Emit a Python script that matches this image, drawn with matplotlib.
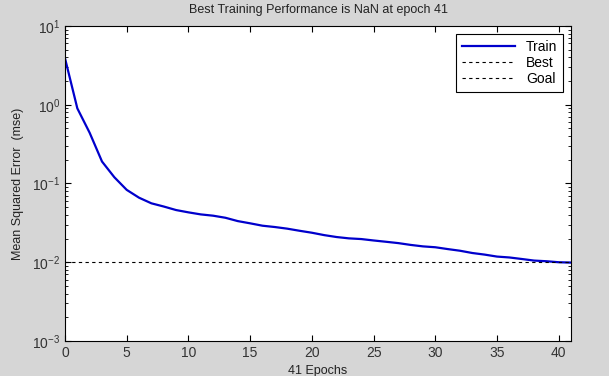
import matplotlib
matplotlib.use("Agg")
import matplotlib.pyplot as plt
import numpy as np

# training record
epochs = list(range(0, 42))
train_mse = [3.9, 0.9, 0.44, 0.19, 0.12, 0.083, 0.066, 0.056, 0.051, 0.046,
             0.043, 0.0405, 0.039, 0.0367, 0.0333, 0.0312, 0.0291, 0.028,
             0.0267, 0.0251, 0.0237, 0.0221, 0.0209, 0.0201, 0.0197, 0.0189,
             0.0182, 0.0175, 0.0166, 0.0159, 0.0155, 0.0147, 0.014, 0.0131,
             0.0125, 0.0118, 0.0115, 0.011, 0.0105, 0.0103, 0.01, 0.0099]
goal = 0.01
best_epoch = 41

plt.rcParams['font.family'] = ['Liberation Sans', 'DejaVu Sans']

fig = plt.figure(figsize=(6.09, 3.76), dpi=100, facecolor="#d6d6d6")
ax = fig.add_axes([0.1067, 0.0931, 0.831, 0.8378])

ax.semilogy(epochs, train_mse, color="#0000cc", lw=1.6, label="Train")
ax.plot([], [], color="black", ls=(0, (3, 3)), lw=0.8, label="Best")
ax.axhline(goal, color="black", ls=(0, (3, 3)), lw=0.8, label="Goal")

ax.set_xlim(0, 41)
ax.set_ylim(1e-3, 1e1)
ax.set_xticks(range(0, 41, 5))
ax.tick_params(which="both", direction="in", top=True, right=True,
               labelsize=10, labelcolor="#333333")
ax.tick_params(which="major", length=4)
ax.tick_params(which="minor", length=2)

ax.set_title("Best Training Performance is NaN at epoch " + str(best_epoch),
             fontsize=9, pad=9, color="#222222")
ax.set_xlabel(str(best_epoch) + " Epochs", fontsize=9, labelpad=4, color="#222222")
ax.set_ylabel("Mean Squared Error  (mse)", fontsize=9, labelpad=6, color="#222222")

leg = ax.legend(loc="upper right", fancybox=False, framealpha=1,
                edgecolor="black", fontsize=10, handlelength=3.8,
                borderaxespad=0.6, labelspacing=0.15)
leg.get_frame().set_linewidth(0.8)

fig.savefig("out.png", dpi=100, facecolor=fig.get_facecolor())
